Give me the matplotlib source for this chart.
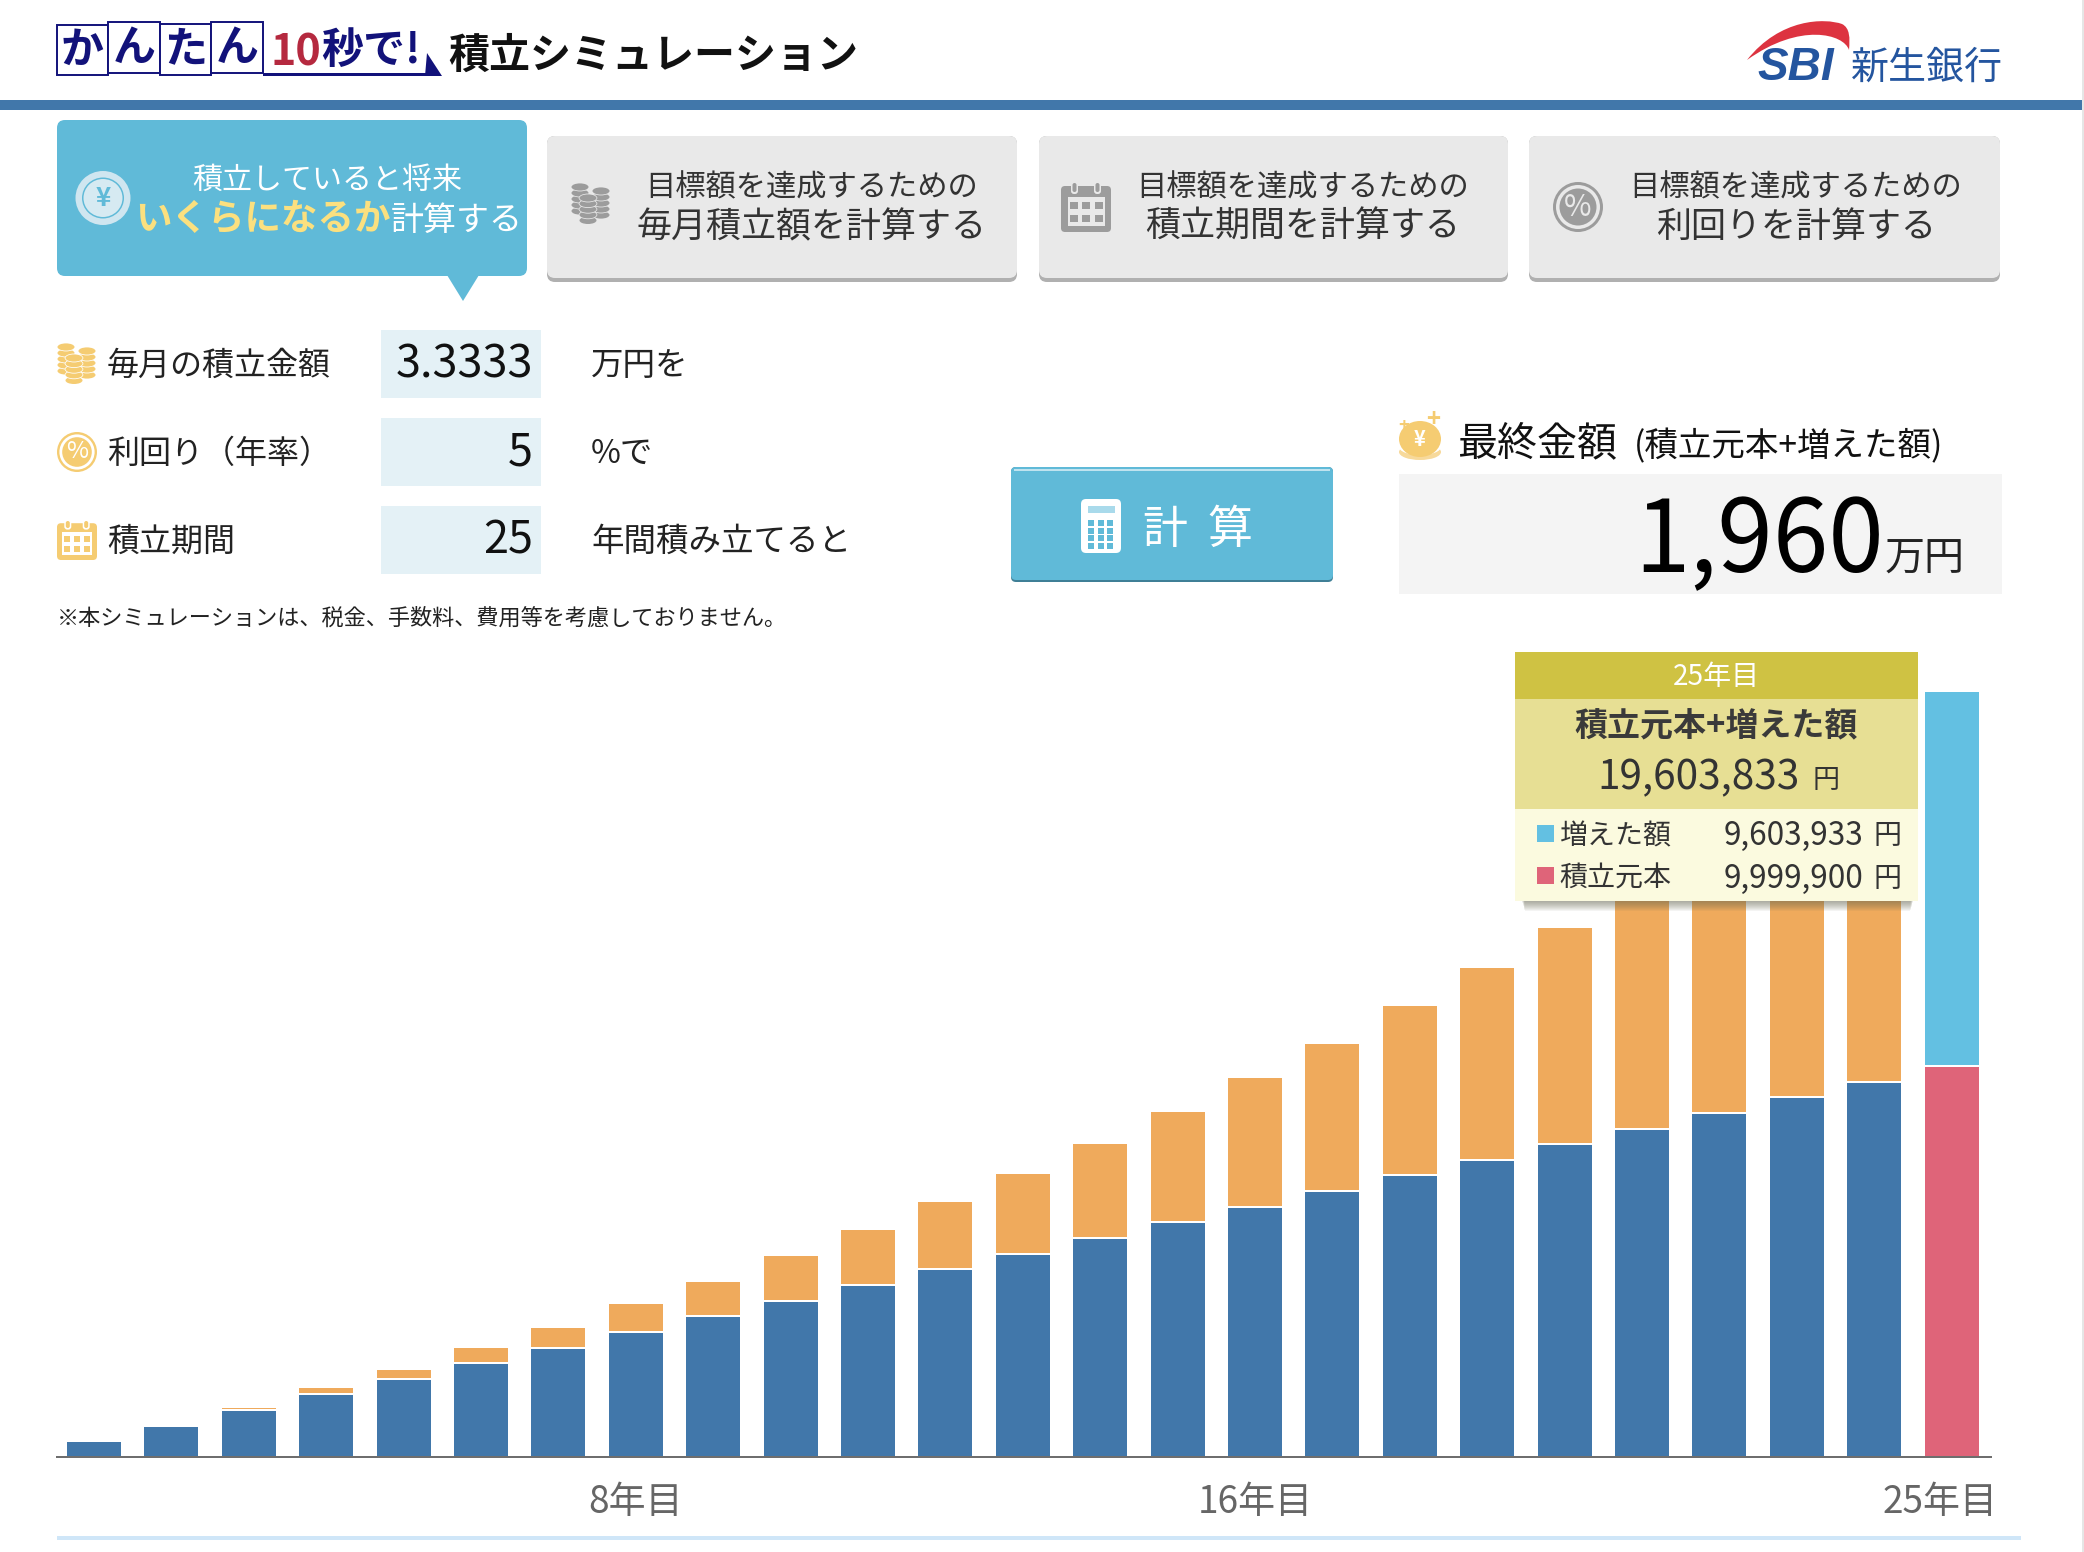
import numpy as np
import matplotlib
matplotlib.use("Agg")
import matplotlib.pyplot as plt
from matplotlib.patches import Rectangle, Ellipse, FancyBboxPatch, Polygon, PathPatch
from matplotlib.path import Path
from matplotlib.transforms import ScaledTranslation

plt.rcParams['font.family'] = ['Noto Sans CJK JP', 'DejaVu Sans']

# ---- data (万円) ----
years = list(range(1, 26))
principal = [40, 80, 120, 160, 200, 240, 280, 320, 360, 400, 440, 480, 520,
             560, 600, 640, 680, 720, 760, 800, 840, 880, 920, 960, 1000]
totals = [40, 82, 128, 179, 225, 281, 332, 394, 450, 517, 583, 655, 726,
          803, 885, 972, 1059, 1156, 1253, 1355, 1465, 1580, 1700, 1825, 1960]
tick_years = [8, 16, 25]
tick_labels = ['8年目', '16年目', '25年目']
tab_titles = [('目標額を達成するための', '毎月積立額を計算する'),
              ('目標額を達成するための', '積立期間を計算する'),
              ('目標額を達成するための', '利回りを計算する')]
input_labels = ['毎月の積立金額', '利回り（年率）', '積立期間']
input_values = ['3.3333', '5', '25']
input_units = ['万円を', '%で', '年間積み立てると']

BLUE = '#4177AA'
ORANGE = '#EFAA5C'
SKY = '#63C0E2'
PINK = '#DF6479'
TEAL = '#60BAD8'
GOLD = '#F5CC72'
GRAY = '#9C9C9C'
NAVY = '#12127A'

W, H = 2084, 1552
fig = plt.figure(figsize=(W / 100, H / 100), dpi=100, facecolor='white')


def px_axes(z):
    a = fig.add_axes([0, 0, 1, 1], zorder=z)
    a.set_xlim(0, W)
    a.set_ylim(H, 0)
    a.axis('off')
    a.patch.set_alpha(0)
    return a


bg = px_axes(0)
top = px_axes(2)


def t(a, x, y, s, size, color='#222222', ha='left', va='center', weight='normal', **kw):
    dy = 3 if va == 'center' else 0
    return a.text(x, y + dy, s, fontsize=size * 0.72, color=color, ha=ha, va=va, weight=weight, **kw)


def rect(a, x0, y0, x1, y1, color, **kw):
    a.add_patch(Rectangle((x0, y0), x1 - x0, y1 - y0, facecolor=color, edgecolor='none', **kw))


def rrect(a, x0, y0, x1, y1, color, r=6, **kw):
    a.add_patch(FancyBboxPatch((x0, y0), x1 - x0, y1 - y0,
                               boxstyle=f'round,pad=0,rounding_size={r}',
                               facecolor=color, edgecolor='none', **kw))


def ell(a, cx, cy, rx, ry, color, **kw):
    a.add_patch(Ellipse((cx, cy), 2 * rx, 2 * ry, facecolor=color, edgecolor='none', **kw))


def stack(a, cx, ytop, n, rx, ry, step, color, back):
    for i in range(n - 1, -1, -1):
        ell(a, cx, ytop + i * step, rx + 0.8, ry + 0.8, back)
        ell(a, cx, ytop + i * step, rx, ry, color)


def coins(a, x0, y0, s, color, back):
    stack(a, x0 + 9 * s, y0 + 4 * s, 5, 8.5 * s, 3.6 * s, 6 * s, color, back)
    stack(a, x0 + 30 * s, y0 + 8 * s, 5, 8.5 * s, 3.6 * s, 6 * s, color, back)
    stack(a, x0 + 17 * s, y0 + 15 * s, 5, 8.5 * s, 3.6 * s, 5.6 * s, color, back)


def percent(a, cx, cy, r, color, back):
    ell(a, cx, cy, r, r, color)
    ell(a, cx, cy, r * 0.88, r * 0.88, back)
    ell(a, cx, cy, r * 0.74, r * 0.74, color)
    t(a, cx, cy - 3, '%', r * 1.2, back, ha='center')


def calendar(a, x0, y0, x1, y1, color, back):
    w, h = x1 - x0, y1 - y0
    rrect(a, x0, y0 + h * 0.08, x1, y1, color, r=4)
    rect(a, x0 + w * 0.13, y0 + h * 0.30, x1 - w * 0.13, y1 - h * 0.12, back)
    for cx in (0.27, 0.73):
        rrect(a, x0 + w * cx - 3.5, y0, x0 + w * cx + 3.5, y0 + h * 0.24, back, r=3)
        rrect(a, x0 + w * cx - 2, y0 + 1, x0 + w * cx + 2, y0 + h * 0.2, color, r=2)
    for cx in (0.25, 0.5, 0.75):
        for cy in (0.47, 0.72):
            rect(a, x0 + w * cx - w * 0.08, y0 + h * cy - h * 0.07,
                 x0 + w * cx + w * 0.08, y0 + h * cy + h * 0.07, color)


# ---- header ----
for x0, x1, y0, y1, ch in [(57, 108, 25, 75, 'か'), (108, 160, 22, 73, 'ん'),
                           (160, 211, 24, 75, 'た'), (211, 263, 22, 73, 'ん')]:
    bg.add_patch(Rectangle((x0, y0), x1 - x0, y1 - y0, facecolor='white', edgecolor=NAVY, lw=1.4))
    t(bg, (x0 + x1) / 2, (y0 + y1) / 2 - 3, ch, 43, NAVY, ha='center', weight='bold')
rect(bg, 263, 73, 428, 76, NAVY)
bg.add_patch(Polygon([[425, 76], [442, 76], [427, 53]], closed=True, facecolor=NAVY, edgecolor='none'))
t(bg, 270, 49, '10', 43, '#B5293F', weight='bold')
t(bg, 321, 48, '秒で!', 42, NAVY, weight='bold')
t(bg, 448, 53, '積立シミュレーション', 41, '#111111', weight='bold')
rect(bg, 0, 100, 2082, 110, BLUE)
rect(bg, 2082, 0, 2084, H, '#E6E6E6')

# logo
bg.add_patch(PathPatch(Path([(1747, 60), (1780, 18), (1825, 18), (1842, 24),
                             (1850, 28), (1850, 38), (1849, 50),
                             (1844, 34), (1800, 22), (1747, 60)],
                            [Path.MOVETO, Path.CURVE4, Path.CURVE4, Path.CURVE4,
                             Path.CURVE4, Path.CURVE4, Path.CURVE4,
                             Path.CURVE4, Path.CURVE4, Path.CURVE4]),
                       facecolor='#DD3340', edgecolor='none'))
bg.text(1757, 68, 'SBI', fontsize=46 * 0.72, color='#24559F', family='Liberation Sans',
        weight='bold', style='italic', ha='left', va='center')
t(bg, 1851, 65, '新生銀行', 38, '#24559F')

# ---- tabs ----
rrect(bg, 57, 120, 527, 276, TEAL, r=8)
bg.add_patch(Polygon([[447, 275], [479, 275], [463, 301]], closed=True, facecolor=TEAL, edgecolor='none'))
ell(bg, 103, 198, 27.5, 27, '#CFE6F0')
ell(bg, 103, 198, 21, 20.5, TEAL)
ell(bg, 103, 198, 19.5, 19, '#D6EAF2')
t(bg, 103, 196, '¥', 26, TEAL, ha='center', weight='bold')
t(bg, 327, 177, '積立していると将来', 30, 'white', ha='center')
t(bg, 135, 216, 'いくらになるか', 36.5, '#FBE07F', weight='bold')
t(bg, 391, 217, '計算する', 33, 'white')

tab_x = [(547, 1017), (1039, 1508), (1529, 2000)]
tab_cx = [812, 1303, 1796]
for (x0, x1), cx, (l1, l2) in zip(tab_x, tab_cx, tab_titles):
    rrect(bg, x0, 136, x1, 282, '#B0B0B0', r=8)
    rrect(bg, x0, 136, x1, 278, '#E9E9E9', r=8)
    t(bg, cx, 185, l1, 30.3, '#333333', ha='center')
    t(bg, cx, 224, l2, 35, '#333333', ha='center')
coins(bg, 571, 183, 1.0, GRAY, '#E9E9E9')
calendar(bg, 1061, 182, 1111, 232, GRAY, '#E9E9E9')
percent(bg, 1578, 207, 25, GRAY, '#E9E9E9')

# ---- inputs ----
rows = [(330, 398), (418, 486), (506, 574)]
for (y0, y1), lab, val, unit in zip(rows, input_labels, input_values, input_units):
    rect(bg, 381, y0, 541, y1, '#E4F1F6')
    cy = (y0 + y1) / 2
    t(bg, 107, cy - 1, lab, 32, '#222222')
    t(bg, 533, cy - 2, val, 45, '#111111', ha='right')
    t(bg, 591, cy - 1, unit, 32.5, '#222222')
coins(bg, 57, 343, 1.0, GOLD, 'white')
percent(bg, 77, 452, 20, GOLD, 'white')
calendar(bg, 57, 520, 97, 560, GOLD, 'white')
t(bg, 57, 616, '※本シミュレーションは、税金、手数料、費用等を考慮しておりません。', 22.2, '#222222')

# ---- calc button ----
rrect(bg, 1011, 467, 1333, 582, '#3F7F96', r=5)
rrect(bg, 1011, 467, 1333, 580, TEAL, r=5)
rect(bg, 1014, 469, 1330, 471, '#BFE3EF')
rrect(bg, 1081, 499, 1121, 553, 'white', r=5)
rect(bg, 1088, 506, 1115, 513, '#A9DAEB')
for ix in range(3):
    for iy in range(4):
        rect(bg, 1088 + ix * 9.6, 520 + iy * 7.7, 1094 + ix * 9.6, 526 + iy * 7.7, TEAL)
t(bg, 1165, 527, '計', 45, 'white', ha='center')
t(bg, 1230, 527, '算', 45, 'white', ha='center')

# ---- final amount ----
ell(bg, 1420, 452, 21, 8, '#F7D99A')
ell(bg, 1420, 447, 21, 8, 'white')
ell(bg, 1420, 439, 21, 18, GOLD)
t(bg, 1420, 436, '¥', 20, 'white', ha='center', weight='bold')
t(bg, 1433, 417, '+', 24, GOLD, ha='center', weight='bold')
t(bg, 1404, 423, '+', 18, GOLD, ha='center', weight='bold')
t(bg, 1457, 441, '最終金額', 40, '#111111')
t(bg, 1634, 444, '(積立元本+増えた額)', 33.5, '#111111')
rect(bg, 1399, 474, 2002, 594, '#F4F4F4')
t(bg, 1884, 572, '1,960', 100, '#000000', ha='right', va='baseline')
t(bg, 1885, 571, '万円', 40, '#222222', va='baseline')

# ---- chart ----
ax_left, ax_right, y_base, y_top = 57, 1991, 1457, 640
ax = fig.add_axes([ax_left / W, (H - y_base) / H, (ax_right - ax_left) / W, (y_base - y_top) / H], zorder=1)
ax.patch.set_alpha(0)
step = 77.4
first = 94
ax.set_xlim((ax_left - first) / step + 1, (ax_right - first) / step + 1)
ax.set_ylim(0, (y_base - y_top) / 0.391)
x = np.array(years)
p = np.array(principal)
g = np.array(totals) - p
bar_w = 56 / step
lower_colors = [BLUE] * 24 + [PINK]
upper_colors = [ORANGE] * 24 + [SKY]
ax.bar(x, g, bottom=p, width=bar_w, color=upper_colors, edgecolor='white', linewidth=1.44)
ax.bar(x, p, width=bar_w, color=lower_colors, edgecolor='white', linewidth=1.44)
for s in ('top', 'left', 'right'):
    ax.spines[s].set_visible(False)
ax.spines['bottom'].set_color('#6E6E6E')
ax.spines['bottom'].set_linewidth(1.44)
ax.set_yticks([])
ax.set_xticks(tick_years)
ax.set_xticklabels(tick_labels, fontsize=37 * 0.72, color='#666666')
ax.tick_params(axis='x', length=0, pad=18.5)
labels = ax.get_xticklabels()
labels[2].set_transform(labels[2].get_transform() +
                        ScaledTranslation(-12 / 100, 0, fig.dpi_scale_trans))
rect(bg, 57, 1536, 2021, 1540, '#CFE6F8')

# ---- tooltip ----
for i in range(10):
    rect(top, 1522 + i * 0.3, 901, 1913 - i * 0.3, 902 + i, '#6B6B55', alpha=0.07)
rect(top, 1515, 652, 1918, 699, '#CFC243')
rect(top, 1515, 699, 1918, 809, '#E7DF94')
rect(top, 1515, 809, 1918, 901, '#FBFADF')
t(top, 1716, 674, '25年目', 28, 'white', ha='center')
t(top, 1716, 724, '積立元本+増えた額', 33, '#3A3A3A', ha='center', weight='bold')
t(top, 1800, 775, '19,603,833', 40.5, '#333333', ha='right')
t(top, 1813, 777, '円', 27, '#333333')
for y, ty, c, lab, val in [(833, 833, SKY, '増えた額', '9,603,933'), (875, 876, PINK, '積立元本', '9,999,900')]:
    rect(top, 1537, y - 8.5, 1554, y + 8.5, c)
    t(top, 1559, ty, lab, 28, '#333333')
    t(top, 1863, ty, val, 31.5, '#333333', ha='right')
    t(top, 1874, ty, '円', 28, '#333333')

fig.savefig('out.png', dpi=100, facecolor='white')
